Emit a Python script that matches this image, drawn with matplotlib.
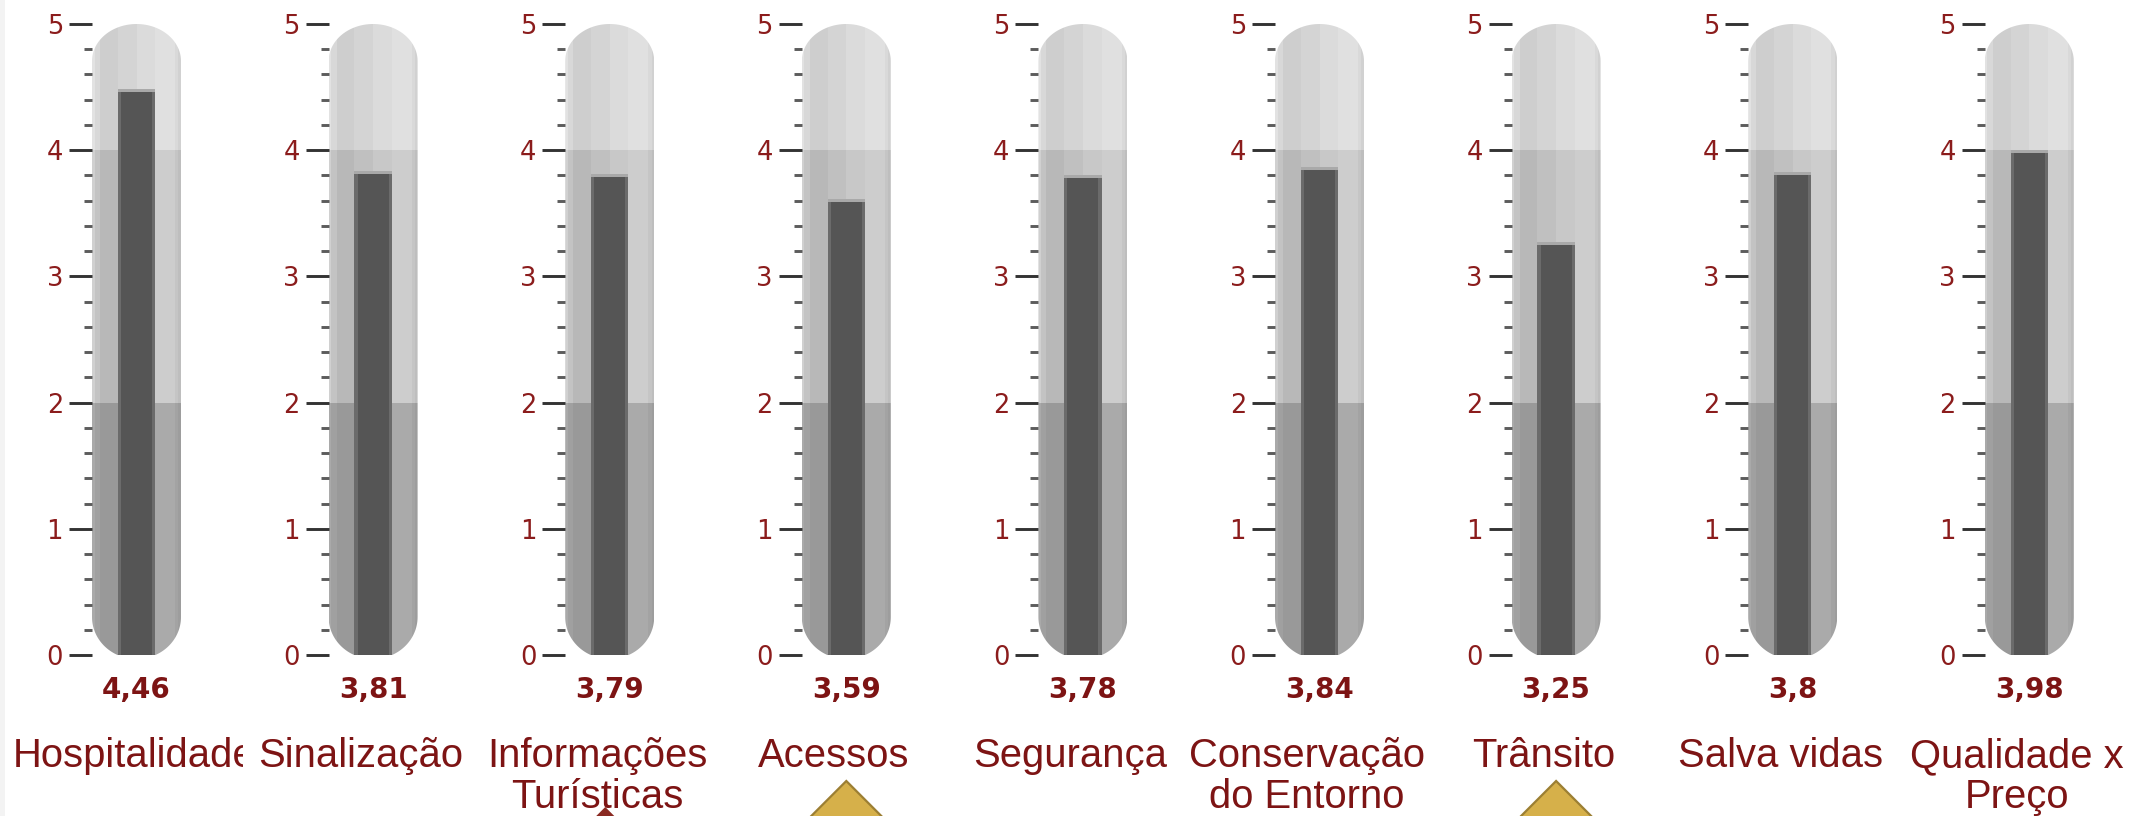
import numpy as np
import matplotlib.pyplot as plt
from matplotlib.patches import Rectangle, PathPatch, Polygon
from matplotlib.path import Path
from matplotlib.transforms import Bbox, TransformedBbox
from matplotlib.ticker import MultipleLocator

# === Data ===
categories = ["Hospitalidade", "Sinalização", "Informações\nTurísticas", "Acessos",
              "Segurança", "Conservação\ndo Entorno", "Trânsito", "Salva vidas",
              "Qualidade x\nPreço"]
scores = [4.46, 3.81, 3.79, 3.59, 3.78, 3.84, 3.25, 3.8, 3.98]
band_edges = [0, 2, 4, 5]
pointers = ["", "", "selected", "up", "", "", "up", "", ""]

# === Style ===
W, H = 2138, 816
maroon = '#7d1414'
tick_col = '#8b1c1c'
# strips across the tube (x in tube units) and colours per band (bottom -> top)
strip_x = [0, 0.03, 0.09, 0.29, 0.5, 0.71, 0.935, 0.97, 1]
band_colors = [
    ['#a9a9a9', '#a0a0a0', '#999999', '#9c9c9c', '#a6a6a6', '#aaaaaa', '#a3a3a3', '#9d9d9d'],
    ['#d0d0d0', '#c3c3c3', '#b8b8b8', '#c0c0c0', '#c8c8c8', '#cdcdcd', '#c5c5c5', '#bebebe'],
    ['#e2e2e2', '#d8d8d8', '#cecece', '#d4d4d4', '#dbdbdb', '#e0e0e0', '#d9d9d9', '#d1d1d1'],
]

# layout in pixels
tube_left0, step, tube_w = 92, 236.6, 89
y_top, y_zero = 24, 655
unit_px = (y_zero - y_top) / 5.0
col_left, col_right = 6, 243      # clip region of a label column
text_left, text_width = 13, 237.5  # content start / width of a label column
px_x = 1.0 / tube_w
px_y = 1.0 / unit_px


def tube_path():
    b_top = 37 * px_y
    b_bot = 42 * px_y
    c_bot = 38 * px_y
    t0 = np.arcsin(-c_bot / b_bot)
    verts = [(0, 5 - b_top), (0, c_bot)]
    a1 = np.linspace(np.pi, np.pi - t0, 30)
    verts += [(0.5 + 0.5 * np.cos(a), c_bot + b_bot * np.sin(a)) for a in a1]
    a2 = np.linspace(2 * np.pi + t0, 2 * np.pi, 30)
    verts += [(0.5 + 0.5 * np.cos(a), c_bot + b_bot * np.sin(a)) for a in a2]
    verts += [(1, 5 - b_top)]
    a3 = np.linspace(0, np.pi, 50)
    verts += [(0.5 + 0.5 * np.cos(a), 5 - b_top + b_top * np.sin(a)) for a in a3]
    verts.append(verts[0])
    return Path(verts, closed=True)


fig = plt.figure(figsize=(W / 100, H / 100), dpi=100)
renderer = fig.canvas.get_renderer()

# light border strip at the very left
fig.patches.append(Rectangle((0, 0), 5 / W, 1, transform=fig.transFigure,
                             facecolor='#f3f3f3', edgecolor='none'))

for i, (cat, val, ptr) in enumerate(zip(categories, scores, pointers)):
    left = tube_left0 + i * step
    ax = fig.add_axes([left / W, (H - y_zero) / H, tube_w / W, (y_zero - y_top) / H])
    ax.set_xlim(0, 1)
    ax.set_ylim(0, 5)
    ax.patch.set_visible(False)
    for s in ax.spines.values():
        s.set_visible(False)

    tube = PathPatch(tube_path(), facecolor='none', edgecolor='none')
    ax.add_patch(tube)

    # coloured bands
    for b in range(len(band_edges) - 1):
        lo, hi = band_edges[b], band_edges[b + 1]
        for k in range(len(strip_x) - 1):
            r = Rectangle((strip_x[k], lo), strip_x[k + 1] - strip_x[k], hi - lo,
                          facecolor=band_colors[b][k], edgecolor='none')
            ax.add_patch(r)
            r.set_clip_path(tube)

    # value bar
    for x0, w, c in [(0.29, 0.42, '#6b6b6b'), (0.325, 0.35, '#555555')]:
        r = Rectangle((x0, 0), w, val, facecolor=c, edgecolor='none')
        ax.add_patch(r)
        r.set_clip_path(tube)
    ax.add_patch(Rectangle((0.29, val), 0.42, 3 * px_y, facecolor='#a9a9a9', edgecolor='none'))

    # axis ticks
    ax.set_xticks([])
    ax.set_yticks(range(6))
    ax.yaxis.set_minor_locator(MultipleLocator(0.2))
    ax.tick_params(axis='y', which='major', direction='out', length=16.5, width=2.1,
                   color='#333333', labelsize=18.5, labelcolor=tick_col, pad=4.3)
    ax.tick_params(axis='y', which='minor', direction='out', length=5.8, width=2.1,
                   color='#5c5c5c')
    for lab in ax.get_yticklabels():
        lab.set_fontfamily('DejaVu Sans')

    # value label
    ax.text(0.5, -35 * px_y, f"{val:g}".replace('.', ','), ha='center', va='center',
            fontsize=20, fontweight='bold', color=maroon, family='DejaVu Sans',
            clip_on=False)

    # category label, clipped to its column
    clip = TransformedBbox(Bbox.from_extents((col_left + i * step) / W, 0,
                                             (col_right + i * step) / W, 1),
                           fig.transFigure)
    cx = 0.5 - 12.5 * px_x
    for j, line in enumerate(cat.split('\n')):
        t = ax.text(cx, -(112 + 41 * j) * px_y, line, ha='center', va='baseline',
                    fontsize=28.8, color=maroon, family='Liberation Sans', clip_on=True)
        t.set_clip_box(clip)
        # overflowing text starts at the column's left edge, like in a table cell
        if t.get_window_extent(renderer).width > text_width:
            t.set_horizontalalignment('left')
            t.set_x((text_left - tube_left0) * px_x)

    # pointer triangles
    if ptr == 'up':
        apex = -126 * px_y
        d = 60
        tri = Polygon([(0.5, apex), (0.5 - d * px_x, apex - d * px_y),
                       (0.5 + d * px_x, apex - d * px_y)], closed=True,
                      facecolor='#d6b04a', edgecolor='#9c7f33', linewidth=1.6, clip_on=False)
        ax.add_patch(tri)
    elif ptr == 'selected':
        apex = -152 * px_y
        d = 30
        tri = Polygon([(0.45, apex), (0.45 - d * px_x, apex - d * px_y),
                       (0.45 + d * px_x, apex - d * px_y)], closed=True,
                      facecolor='#8a2a22', edgecolor='none', clip_on=False)
        ax.add_patch(tri)

plt.savefig("out.png", dpi=100)
